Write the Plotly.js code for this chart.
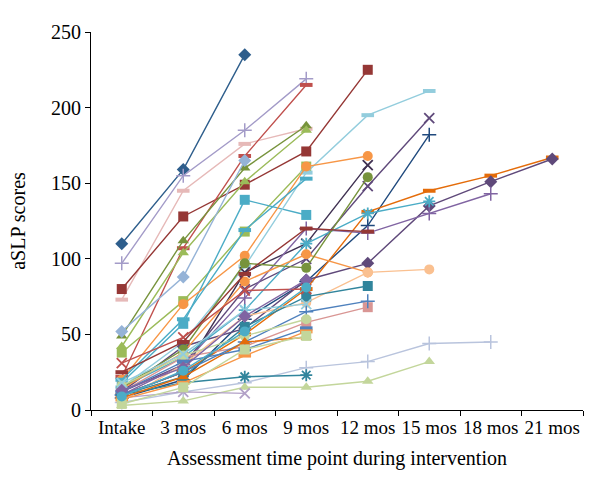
<!DOCTYPE html>
<html>
<head>
<meta charset="utf-8">
<script src="https://cdn.plot.ly/plotly-3.0.1.min.js"></script>
<style>html,body{margin:0;padding:0;background:#fff;}#chart{width:600px;height:493px;}</style>
</head>
<body>
<div id="chart"></div>
<script>
const timePoints = ["Intake","3 mos","6 mos","9 mos","12 mos","15 mos","18 mos","21 mos"];

// aSLP scores per child, in time-point order
const c01 = [110,159,235];
const c02 = [97,155,185,219];
const c03 = [73,145,176,186];
const c04 = [80,128,149,171,225];
const c05 = [22,107,168,215];
const c06 = [49,112,160,188];
const c07 = [42,104,151,185];
const c08 = [38,72,118,161];
const c09 = [52,88,165];
const c10 = [18,57,139,129];
const c11 = [15,45,95,157,195,211];
const c12 = [20,70,102,161,168];
const c13 = [12,30,80,100,148,193];
const c14 = [10,25,91,110,162];
const c15 = [8,20,60,85,122,182];
const c16 = [10,25,50,80,131,145,155,167];
const c17 = [12,42,54,86,97,135,151,166];
const c18 = [10,30,74,120,117,130,143];
const c19 = [15,35,66,110,130,138];
const c20 = [14,38,85,103,91];
const c21 = [6,30,62,71,91,93];
const c22 = [10,22,55,75,82];
const c23 = [12,35,42,58,68];
const c24 = [10,25,45,65,72];
const c25 = [5,12,18,28,32,44,45];
const c26 = [3,6,15,15,19,32];
const c27 = [10,18,22,23];
const c28 = [8,12,11];
const c29 = [20,60,119,153];
const c30 = [15,40,97,94,154];
const c31 = [31,48,79,80];
const c32 = [16,36,49,60];
const c33 = [8,22,45,48];
const c34 = [18,37,66,70];
const c35 = [12,32,40,54];
const c36 = [25,45,90,120,118];
const c37 = [7,18,36,52];
const c38 = [4,15,40,49];
const c39 = [13,28,62,86];
const c40 = [9,26,52,81];

// style per series: [values, colour, marker]
const seriesStyle = [
  [c01,"#2E5E8C","diamond"],[c02,"#A39BC8","plus"],[c03,"#E6B9B8","dash"],[c04,"#953735","square"],
  [c05,"#C0504D","dash"],[c06,"#77933C","triangle-up"],[c07,"#9BBB59","triangle-up"],[c08,"#9BBB59","square"],
  [c09,"#95B3D7","diamond"],[c10,"#4BACC6","square"],[c11,"#93CDDD","dash"],[c12,"#F79646","circle"],
  [c13,"#604A7B","x"],[c14,"#403152","x"],[c15,"#1F497D","plus"],[c16,"#E46C0A","dash"],
  [c17,"#5F497A","diamond"],[c18,"#8064A2","plus"],[c19,"#4BACC6","asterisk"],[c20,"#F79646","circle"],
  [c21,"#FAC090","circle"],[c22,"#31859C","square"],[c23,"#D99694","square"],[c24,"#4F81BD","plus"],
  [c25,"#B9C4DD","plus"],[c26,"#C3D69B","triangle-up"],[c27,"#31859C","asterisk"],[c28,"#B2A1C7","x"],
  [c29,"#4BACC6","dash"],[c30,"#77933C","circle"],[c31,"#C0504D","x"],[c32,"#C3D69B","circle"],
  [c33,"#E46C0A","triangle-up"],[c34,"#93CDDD","x"],[c35,"#4F81BD","dash"],[c36,"#953735","dash"],
  [c37,"#F79646","dash"],[c38,"#C3D69B","square"],[c39,"#8064A2","diamond"],[c40,"#4BACC6","circle"]
];

function markerFor(kind, color){
  switch(kind){
    case "plus": return {symbol:"cross-thin-open", size:10, color:color, line:{color:color, width:1.5}};
    case "x": return {symbol:"x-thin-open", size:10, color:color, line:{color:color, width:1.8}};
    case "asterisk": return {symbol:"asterisk-open", size:10, color:color, line:{color:color, width:1.8}};
    case "dash": return {symbol:"line-ew-open", size:9, color:color, line:{color:color, width:4}};
    case "triangle-up": return {symbol:"triangle-up", size:10, color:color};
    case "circle": return {symbol:"circle", size:10, color:color};
    case "square": return {symbol:"square", size:10, color:color};
    default: return {symbol:"diamond", size:10, color:color};
  }
}

const traces = seriesStyle.map(function(s){
  const vals = s[0];
  return {
    type:"scatter", mode:"lines+markers",
    x: timePoints.slice(0, vals.length), y: vals,
    line:{color:s[1], width:1.4},
    marker: markerFor(s[2], s[1]),
    showlegend:false, hoverinfo:"skip"
  };
});

const fontFam = "Liberation Serif, Times New Roman, serif";
const layout = {
  width:600, height:493,
  margin:{l:91, r:17, t:32, b:83},
  paper_bgcolor:"#fff", plot_bgcolor:"#fff",
  font:{family:fontFam, size:19, color:"#000"},
  showlegend:false,
  xaxis:{
    type:"category", categoryorder:"array", categoryarray:timePoints,
    range:[-0.5, 7.5], tickson:"boundaries", ticks:"outside", ticklen:5, tickcolor:"#000",
    tickangle:0, automargin:false,
    showline:true, linecolor:"#000", linewidth:1, showgrid:false, zeroline:false,
    tickfont:{family:fontFam, size:19, color:"#000"},
    title:{text:"Assessment time point during intervention", font:{family:fontFam, size:20, color:"#000"}, standoff:14}
  },
  yaxis:{
    range:[0,250], dtick:50, ticks:"outside", ticklen:5, tickcolor:"#000",
    automargin:false,
    showline:true, linecolor:"#000", linewidth:1, showgrid:false, zeroline:false,
    tickfont:{family:fontFam, size:20, color:"#000"},
    title:{text:"aSLP scores", font:{family:fontFam, size:20, color:"#000"}, standoff:20}
  }
};

Plotly.newPlot("chart", traces, layout, {displayModeBar:false, staticPlot:true});
</script>
</body>
</html>
